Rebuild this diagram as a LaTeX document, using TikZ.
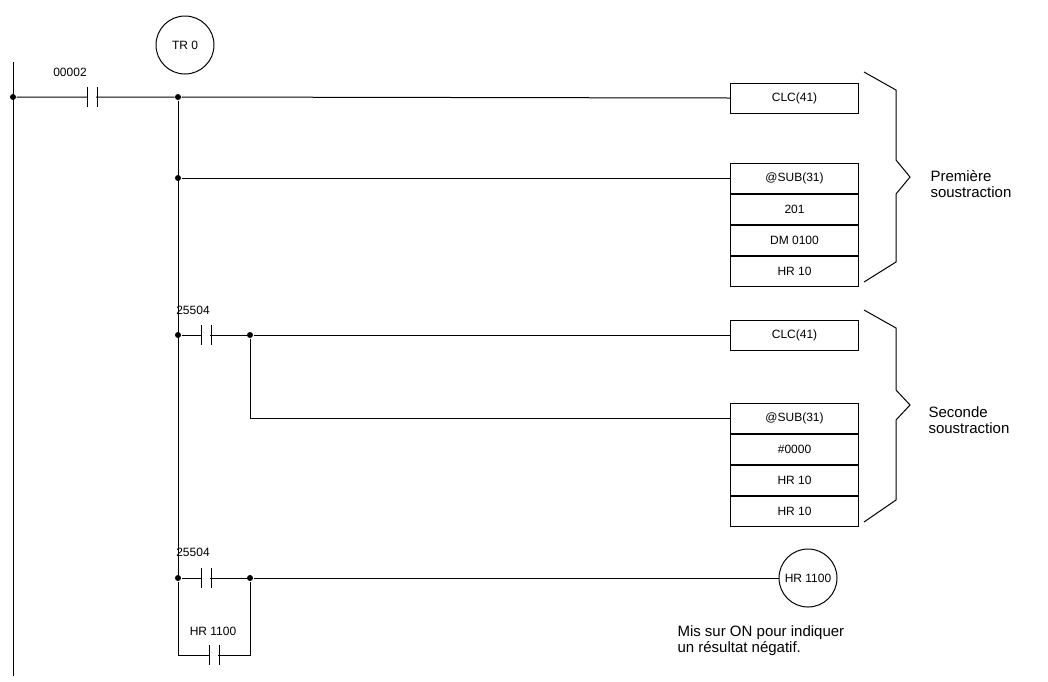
\documentclass[tikz,border=0pt]{standalone}
\usepackage{fontspec}
\setmainfont{Liberation Sans}
\begin{document}
\begin{tikzpicture}[x=1pt,y=-1pt,line width=1pt,font=\fontsize{12}{14}\selectfont,
  box/.style={draw,minimum width=128pt,minimum height=30pt,inner sep=0pt},
  coil/.style={draw,circle,minimum size=58pt,inner sep=0pt},
  dot/.style={circle,fill,inner sep=0pt,minimum size=6pt},
  lbl/.style={inner sep=1pt},
  note/.style={align=left,inner sep=0pt,font=\fontsize{15}{16}\selectfont}]
\useasboundingbox (0,0) rectangle (1048,681);
% contact: gap between two plates
\newcommand{\contact}[2]{%
  \draw (#1-5,#2-10) -- (#1-5,#2+10) (#1+5,#2-10) -- (#1+5,#2+10);
  \fill[white] (#1-4,#2-1) rectangle (#1+4,#2+1);}
% rail
\draw (13,62) -- (13,676);
\node[dot] (n0) at (13,97) {};
\node[coil] (tr) at (185,45) {TR 0};
% rung 1
\node[dot] (n1) at (178,97) {};
\node[box,anchor=west] (clc1) at (730,98) {CLC(41)};
\draw (n0) -- (n1) -- (clc1.west);
\contact{92}{97}
\node[lbl] at (70,72) {00002};
% rung 2
\node[dot] (n2) at (178,178) {};
\node[box,anchor=north west] (sub1) at (730,163) {@SUB(31)};
\node[box,anchor=north] (s1a) at (sub1.south) {201};
\node[box,anchor=north] (s1b) at (s1a.south) {DM 0100};
\node[box,anchor=north] (s1c) at (s1b.south) {HR 10};
\draw (n2) -- (sub1.west |- n2);
% rung 3
\node[dot] (n3) at (178,335) {};
\node[dot] (m3) at (250,335) {};
\node[box,anchor=west] (clc2) at (730,335) {CLC(41)};
\draw (n3) -- (m3) -- (clc2.west);
\contact{206}{335}
\node[lbl] at (193,310) {25504};
\node[box,anchor=north west] (sub2) at (730,403) {@SUB(31)};
\node[box,anchor=north] (s2a) at (sub2.south) {\#0000};
\node[box,anchor=north] (s2b) at (s2a.south) {HR 10};
\node[box,anchor=north] (s2c) at (s2b.south) {HR 10};
\draw (m3) |- (sub2.west);
% rung 4
\node[dot] (n4) at (178,578) {};
\node[dot] (m4) at (250,578) {};
\node[coil] (hr) at (808,578) {HR 1100};
\draw (n4) -- (m4) -- (hr.west);
\contact{206}{578}
\node[lbl] at (193,552) {25504};
\coordinate (b1) at (178,655);
\coordinate (b2) at (250,655);
\draw (n4) -- (b1) -- (b2) -- (m4);
\contact{214}{655}
\node[lbl] at (213,631) {HR 1100};
\node[note,anchor=north west] (txt) at (677,625) {Mis sur ON pour indiquer\\un résultat négatif.};
% power bus
\draw (n1) -- (n4);
% braces
\draw (864,72) -- (896,90) -- (896,160) -- (910,177) -- (896,194) -- (896,262) -- (864,282);
\draw (864,310) -- (896,328) -- (896,390) -- (910,405) -- (896,420) -- (896,500) -- (864,522);
\node[note,anchor=west] (t1) at (930,184) {Première\\soustraction};
\node[note,anchor=west] (t2) at (928,420) {Seconde\\soustraction};
\end{tikzpicture}
\end{document}
